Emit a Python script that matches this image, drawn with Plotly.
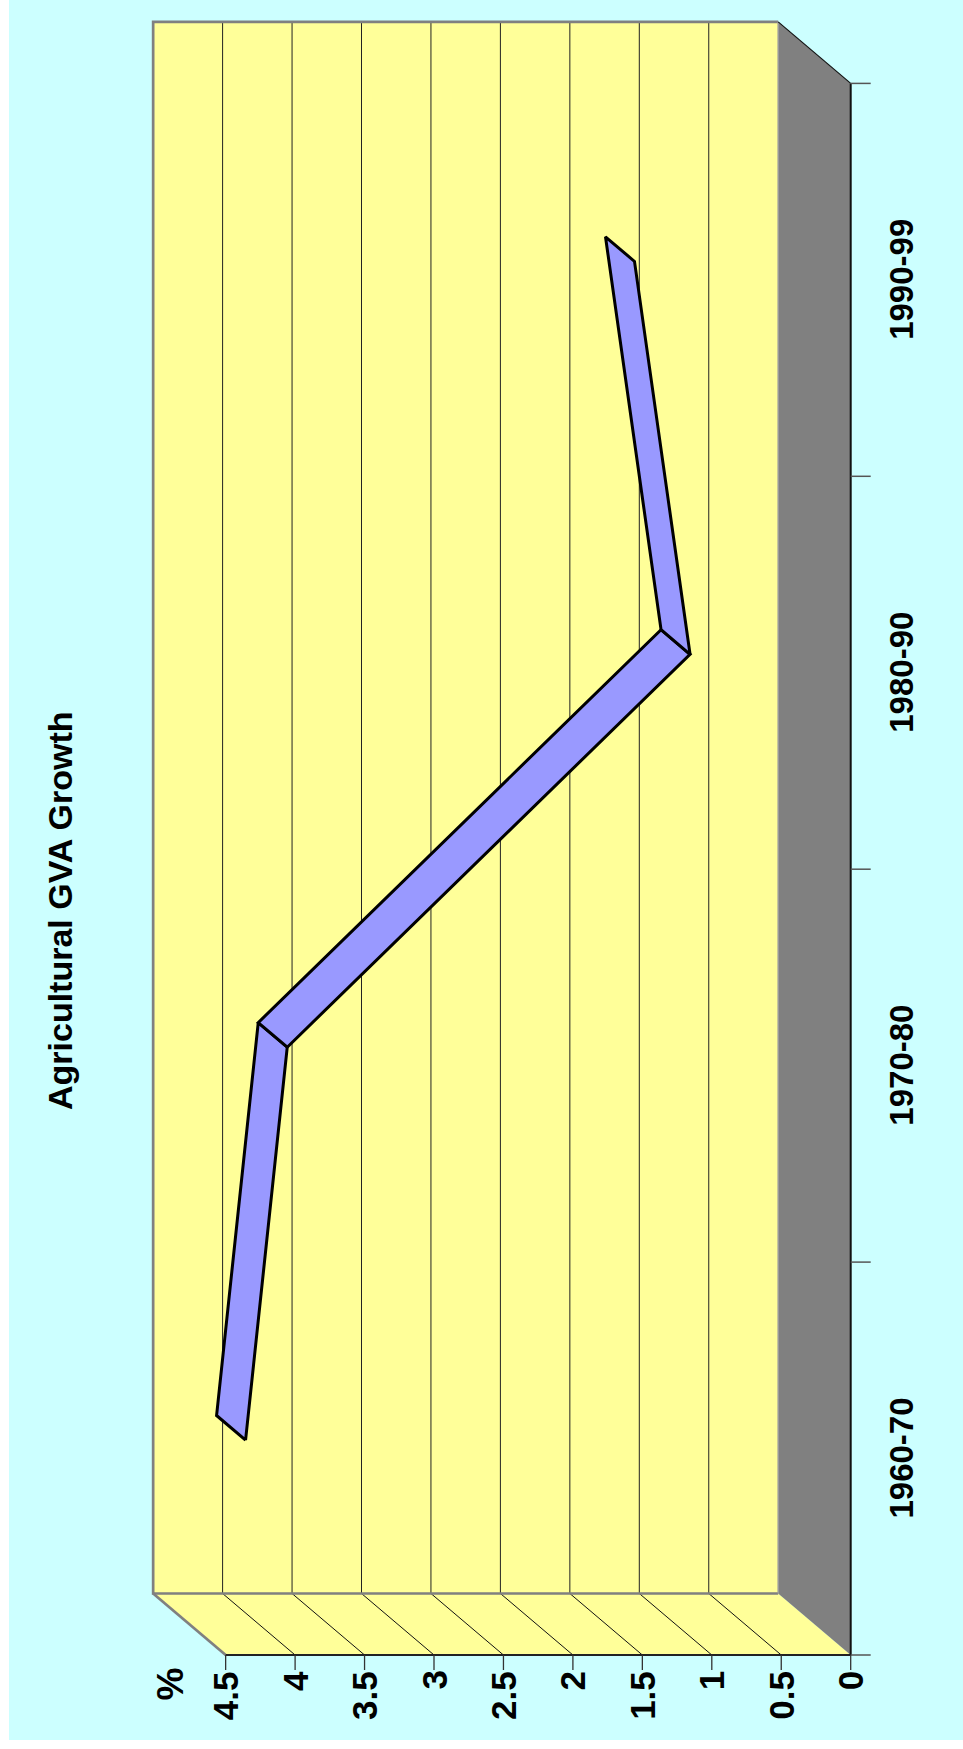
import plotly.graph_objects as go

# ---------------- data ----------------
categories = ["1960-70", "1970-80", "1980-90", "1990-99"]
growth = [4.2, 3.9, 1.0, 1.4]
value_ticks = [0, 0.5, 1, 1.5, 2, 2.5, 3, 3.5, 4, 4.5]
value_tick_labels = ["0", "0.5", "1", "1.5", "2", "2.5", "3", "3.5", "4", "4.5"]
chart_title = "Agricultural GVA Growth"
unit_label = "%"

# ---------------- geometry (rotated Excel-style 3D line) ----------------
W, H = 963, 1749
PX_PER_VAL = 138.9      # pixels per value unit (horizontal, value grows to the left)
PX_PER_CAT = 392.9      # pixels per category (vertical, categories go upward)
X0_PX = 850.7           # pixel x of value 0 on the front plane
Y0_PX = 1655.0          # pixel y of the first category boundary on the front plane
DEPTH_X_PX, DEPTH_Y_PX = 72.5, 61.5
DX = DEPTH_X_PX / PX_PER_VAL
DY = DEPTH_Y_PX / PX_PER_CAT
VMAX = max(value_ticks)
NCAT = len(categories)


def P(v, c, d):
    """value v, category position c, depth d (0 = front, 1 = back) -> axis coords"""
    return v + DX * d, c + DY * d


def path(pts, close=True):
    s = "M " + " L ".join(f"{x:.5f},{y:.5f}" for x, y in pts)
    return s + (" Z" if close else "")


xrange = [X0_PX / PX_PER_VAL, (X0_PX - W) / PX_PER_VAL]
yrange = [(Y0_PX - H) / PX_PER_CAT, Y0_PX / PX_PER_CAT]

YELLOW = "#FFFF99"
GRAY = "#808080"
CYAN = "#CCFFFF"
RIBBON = "#9999FF"
FONT = "Liberation Sans, Arial, sans-serif"

shapes = []


def add_path(pts, fill=None, line_color=None, width=0, close=True):
    shapes.append(dict(type="path", xref="x", yref="y", layer="below",
                       path=path(pts, close),
                       fillcolor=fill if fill else "rgba(0,0,0,0)",
                       line=dict(color=line_color if line_color else "rgba(0,0,0,0)",
                                 width=width)))


# cyan chart area (white strip left and bottom)
shapes.append(dict(type="rect", xref="paper", yref="paper", layer="below",
                   x0=9 / W, x1=1, y0=9 / H, y1=1, fillcolor=CYAN,
                   line=dict(width=0)))

# back wall
add_path([P(0, 0, 1), P(VMAX, 0, 1), P(VMAX, NCAT, 1), P(0, NCAT, 1)], fill=YELLOW)
# side wall (category 0 plane)
add_path([P(0, 0, 1), P(VMAX, 0, 1), P(VMAX, 0, 0), P(0, 0, 0)], fill=YELLOW)
# floor (value 0 plane)
add_path([P(0, 0, 1), P(0, NCAT, 1), P(0, NCAT, 0), P(0, 0, 0)], fill=GRAY)

# gridlines
for v in value_ticks:
    if 0 < v < VMAX:
        add_path([P(v, 0, 1), P(v, NCAT, 1)], line_color="#222222", width=1, close=False)
        add_path([P(v, 0, 1), P(v, 0, 0)], line_color="#111111", width=1, close=False)

# wall borders
add_path([P(0, NCAT, 1), P(VMAX, NCAT, 1), P(VMAX, 0, 1), P(0, 0, 1)],
         line_color=GRAY, width=2.7, close=False)
add_path([P(VMAX, 0, 1), P(VMAX, 0, 0)], line_color=GRAY, width=2.7, close=False)
add_path([P(0, 0, 1), P(0, NCAT, 1)], line_color="#9a9a9a", width=1.5, close=False)
add_path([P(0, NCAT, 1), P(0, NCAT, 0)], line_color="#111111", width=1.2, close=False)

# axes lines
TICK_CAT = 20 / PX_PER_VAL
TICK_VAL = 15 / PX_PER_CAT
add_path([P(VMAX, 0, 0), P(0, 0, 0)], line_color="#222222", width=2, close=False)
add_path([P(0, 0, 0), P(0, NCAT, 0)], line_color="#111111", width=2, close=False)
for c in range(NCAT + 1):
    add_path([P(0, c, 0), P(-TICK_CAT, c, 0)], line_color="#555555", width=1.5, close=False)
for v in value_ticks:
    add_path([P(v, 0, 0), P(v, -TICK_VAL, 0)], line_color="#333333", width=1.3, close=False)

fig = go.Figure()

# ribbon (3D line) segments
D_FRONT, D_BACK = 0.3, 0.7
for i in range(NCAT - 1):
    pts = [P(growth[i], i + 0.5, D_FRONT), P(growth[i + 1], i + 1.5, D_FRONT),
           P(growth[i + 1], i + 1.5, D_BACK), P(growth[i], i + 0.5, D_BACK),
           P(growth[i], i + 0.5, D_FRONT)]
    fig.add_trace(go.Scatter(x=[p[0] for p in pts], y=[p[1] for p in pts],
                             mode="lines", fill="toself", fillcolor=RIBBON,
                             line=dict(color="black", width=3),
                             hoverinfo="skip", showlegend=False))

annotations = []
# value tick labels
for v, lab in zip(value_ticks, value_tick_labels):
    annotations.append(dict(x=v, y=-TICK_VAL, xref="x", yref="y", text=lab,
                            textangle=-90, showarrow=False, xanchor="center",
                            yanchor="top", borderpad=0,
                            font=dict(family=FONT, size=35, color="black", weight="bold")))
# category labels
for i, lab in enumerate(categories):
    annotations.append(dict(x=(X0_PX - 902) / PX_PER_VAL, y=i + 0.5, xref="x", yref="y",
                            text=lab, textangle=-90, showarrow=False,
                            xanchor="center", yanchor="middle", borderpad=0,
                            font=dict(family=FONT, size=33, color="black", weight="bold")))
# unit label
annotations.append(dict(x=(X0_PX - 170) / PX_PER_VAL, y=-12 / PX_PER_CAT, xref="x", yref="y",
                        text=unit_label, textangle=-90, showarrow=False,
                        xanchor="center", yanchor="top", borderpad=0,
                        font=dict(family=FONT, size=37, color="black", weight="bold")))
# title
annotations.append(dict(x=60 / W, y=1 - 911 / H, xref="paper", yref="paper",
                        text=chart_title, textangle=-90, showarrow=False,
                        xanchor="center", yanchor="middle", borderpad=0,
                        font=dict(family=FONT, size=34, color="black", weight="bold")))

fig.update_layout(
    width=W, height=H, margin=dict(l=0, r=0, t=0, b=0, pad=0),
    paper_bgcolor="white", plot_bgcolor="white",
    shapes=shapes, annotations=annotations, showlegend=False,
    xaxis=dict(range=xrange, visible=False, showgrid=False, zeroline=False, fixedrange=True),
    yaxis=dict(range=yrange, visible=False, showgrid=False, zeroline=False, fixedrange=True),
)

fig.write_html("out.html", config={"displayModeBar": False},
               post_script="document.body.style.margin='0';document.body.style.overflow='hidden';")
